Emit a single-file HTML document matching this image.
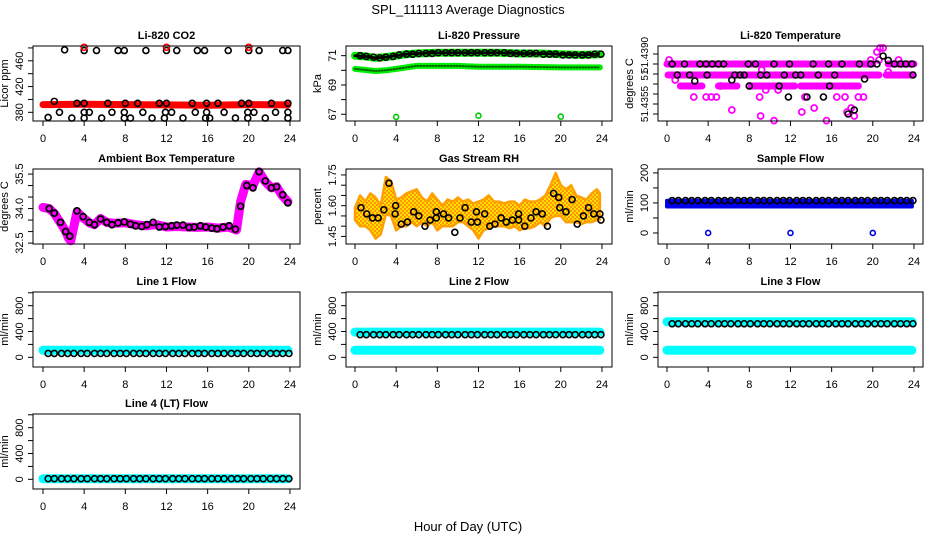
<!DOCTYPE html>
<html><head><meta charset="utf-8"><title>SPL_111113 Average Diagnostics</title>
<style>
html,body{margin:0;padding:0;background:#fff;}
svg{display:block;font-family:"Liberation Sans",Arial,sans-serif;}
</style></head>
<body>
<svg id="chart" width="936" height="540" viewBox="0 0 936 540" xmlns="http://www.w3.org/2000/svg">
<rect x="0" y="0" width="936" height="540" fill="#fff"/>
<defs>
<pattern id="rhpat" width="4" height="4" patternUnits="userSpaceOnUse">
<rect width="4" height="4" fill="#ffe000"/>
<circle cx="1" cy="1" r="1.1" fill="#ff9000"/>
<circle cx="3" cy="3" r="1.1" fill="#ff9000"/>
</pattern>
</defs>
<text x="468" y="14" font-size="13" text-anchor="middle">SPL_111113  Average Diagnostics</text>
<text x="468" y="531" font-size="13" text-anchor="middle">Hour of Day (UTC)</text>
</svg>
<script>
// ---------- shared data ----------
const xTicks = [0,4,8,12,16,20,24];
const blackT = [0.5,1.1,1.8,2.4,3.0,3.7,4.3,5.0,5.6,6.2,6.9,7.5,8.1,8.8,9.4,10.0,10.7,11.3,11.9,12.6,13.2,13.8,14.5,15.1,15.7,16.4,17.0,17.6,18.3,18.9,19.5,20.2,20.8,21.4,22.1,22.7,23.3,23.9];
const bandT = [0,4,8,12,16,20,23.8];

// CO2
const co2BandV = [392,392.5,392,391.5,391,392,391.5];
const co2T = [2.1,4,5.2,7.3,7.9,10,12,13,15,15.7,18,20,21,23.3,23.8, 1.1,3.3,4,6.3,8,9.2,11.3,12,14.5,15.9,17,19.3,20,22.2,23.8, 0.5,2.8,4,5.7,7.9,8.5,10.6,11.8,13.6,15.8,16.2,18.7,19.9,21.6,23.8, 1.6,4,4.5,6.7,7.9,9.7,11.9,12.5,14.8,15.9,17.6,19.9,20.5,22.6,23.8];
const co2V = [477,476,476,476,476,476,476,476,476,476,476,476,476,476,476, 397,394,394,394,394,394,394,394,394,394,394,394,394,394,394, 372,371,371,371,371,371,371,371,371,371,371,371,371,371,371, 380,380,380,380,380,380,380,380,380,380,380,380,380,380,380];
const co2RedT = [4,12,20];
const co2RedV = [481,481,481];

// Pressure
const presUpT = [0,1,2,3,4,5,6,8,10,12,14,16,18,20,22,23.8];
const presUpV = [71.0,70.95,70.85,70.9,71.0,71.1,71.15,71.2,71.2,71.2,71.2,71.15,71.15,71.1,71.05,71.1];
const presLoT = [0,2,3,4,5,6,8,10,12,16,20,23.8];
const presLoV = [70.1,69.95,70.0,70.1,70.2,70.3,70.3,70.3,70.25,70.25,70.2,70.2];
const presBlackV = [71.0,70.95,70.9,70.85,70.9,70.95,71.05,71.1,71.1,71.15,71.15,71.15,71.2,71.2,71.2,71.2,71.2,71.2,71.2,71.2,71.2,71.2,71.2,71.15,71.15,71.15,71.15,71.15,71.1,71.1,71.1,71.05,71.05,71.05,71.05,71.05,71.1,71.1];
const presOutT = [4,12,20];
const presOutV = [66.82,66.9,66.84];

// Li-820 temperature
const tempRunStart = [0,21.5,0.1,21.3,1.3,5.0,8.2,13.0];
const tempRunEnd   = [20,24,20.6,23.9,3.4,6.8,12.4,18.6];
const tempRunV     = [51.4385,51.4385,51.43795,51.43795,51.4374,51.4374,51.4374,51.4374];
const tempMagT = [0.2,0.8,2.6,3.8,4.3,4.8,5.2,6.3,8.0,9.0,9.1,9.2,9.6,10.4,10.8,13.1,13.4,14.3,15.5,16.5,17.3,17.5,17.9,18.2,18.6,19.1,19.8,20.4,20.7,21.0,20.6,21.5,22.5];
const tempMagV = [51.4387,51.4377,51.43685,51.43685,51.43685,51.43685,51.4374,51.4362,51.4374,51.43685,51.4359,51.4382,51.4372,51.43567,51.4372,51.4361,51.43685,51.4363,51.43567,51.43685,51.43685,51.4361,51.4363,51.4359,51.43685,51.43685,51.4387,51.4391,51.4393,51.4393,51.4387,51.4381,51.4387];
const tempBlackT = [0.5,1.0,1.7,2.2,2.7,3.2,3.8,3.9,4.4,5.0,5.5,6.3,6.6,7.1,7.5,7.9,8.0,8.6,9.1,9.7,10.4,10.9,11.4,11.8,11.9,12.5,13.0,13.6,14.2,14.7,15.2,15.7,15.8,16.3,17.0,17.6,18.2,18.7,19.2,19.8,20.4,21.0,21.5,22.1,22.7,23.2,23.8,23.9];
const tempBlackV = [51.4385,51.43795,51.4385,51.43795,51.43765,51.4385,51.4385,51.43795,51.4385,51.4385,51.4385,51.4377,51.43795,51.43795,51.43795,51.4385,51.4374,51.4385,51.43795,51.43795,51.4385,51.4374,51.43795,51.43685,51.4385,51.43795,51.43795,51.43685,51.4385,51.43795,51.43685,51.4385,51.4374,51.43795,51.4385,51.4360,51.4362,51.4385,51.43775,51.4385,51.4385,51.4389,51.43868,51.4385,51.4385,51.4385,51.4385,51.43795];

// Ambient box temperature
const ambT = [0,0.6,1.1,1.7,2.2,2.5,2.7,3.3,3.9,4.5,5.0,5.6,6.2,7.0,8.0,9.0,10.0,11.0,12.0,13.0,14.0,15.0,16.0,17.0,18.0,18.8,19.2,19.7,20.4,21.0,21.6,22.2,22.7,23.2,23.8];
const ambV = [34.05,34.0,33.79,33.38,33.02,32.7,32.6,33.86,33.6,33.38,33.3,33.57,33.4,33.36,33.38,33.3,33.25,33.3,33.2,33.22,33.2,33.18,33.2,33.15,33.2,33.07,34.3,35.05,35.0,35.6,35.17,34.9,34.95,34.59,34.3];
const ambBlackT = [0.6,1.1,1.7,2.2,2.6,3.3,3.9,4.5,5.0,5.6,6.2,6.7,7.3,7.9,8.5,9.0,9.6,10.1,10.7,11.3,11.9,12.5,13.0,13.6,14.2,14.7,15.3,15.8,16.4,16.9,17.5,18.1,18.7,19.2,19.8,20.4,21.0,21.6,22.2,22.7,23.3,23.8];
const ambBlackV = [34.0,33.8,33.4,33.0,32.8,33.9,33.65,33.4,33.3,33.55,33.4,33.3,33.38,33.42,33.32,33.25,33.22,33.3,33.4,33.2,33.22,33.25,33.28,33.28,33.18,33.2,33.25,33.2,33.15,33.12,33.2,33.25,33.1,34.1,35.0,34.9,35.6,35.2,34.9,34.95,34.6,34.25];

// Gas stream RH
const rhEnvT = [0,0.5,1,1.5,2,2.5,3,3.5,4,4.5,5,5.5,6,6.5,7,7.5,8,8.5,9,9.5,10,10.5,11,11.5,12,12.5,13,13.5,14,14.5,15,15.5,16,16.5,17,17.5,18,18.5,19,19.5,20,20.5,21,21.5,22,22.5,23,23.5,23.8];
const rhHi = [1.59,1.65,1.62,1.66,1.64,1.60,1.74,1.72,1.63,1.64,1.66,1.67,1.68,1.64,1.62,1.66,1.63,1.60,1.63,1.62,1.64,1.62,1.63,1.61,1.62,1.63,1.65,1.62,1.62,1.61,1.62,1.62,1.60,1.63,1.62,1.62,1.63,1.65,1.70,1.76,1.70,1.68,1.70,1.65,1.64,1.63,1.66,1.68,1.66];
const rhLo = [1.53,1.50,1.50,1.48,1.44,1.46,1.56,1.55,1.48,1.50,1.50,1.52,1.50,1.52,1.50,1.52,1.48,1.50,1.50,1.50,1.52,1.52,1.50,1.48,1.44,1.48,1.49,1.50,1.50,1.50,1.49,1.50,1.48,1.49,1.49,1.50,1.52,1.50,1.54,1.55,1.55,1.52,1.52,1.52,1.51,1.52,1.52,1.53,1.53];
const rhBlackT = [0.58,1.14,1.7,2.25,2.8,3.3,3.9,3.95,4.5,5.1,5.7,6.2,6.8,7.3,7.9,7.9,8.6,9.1,9.7,10.2,10.7,11.3,11.8,11.9,12.6,13.1,13.6,14.2,14.7,15.3,15.9,15.9,16.5,17.1,17.6,18.2,18.7,19.3,19.8,19.9,20.5,21.1,21.6,22.2,22.7,23.2,23.8,23.9];
const rhBlackV = [1.59,1.56,1.54,1.54,1.58,1.71,1.56,1.60,1.51,1.52,1.57,1.55,1.50,1.53,1.57,1.54,1.56,1.54,1.47,1.54,1.59,1.52,1.57,1.52,1.56,1.50,1.51,1.54,1.52,1.53,1.56,1.53,1.50,1.54,1.57,1.56,1.50,1.66,1.64,1.59,1.57,1.63,1.51,1.55,1.59,1.56,1.56,1.53];

// Sample flow
const sfHiV = [107,107,107,107,107,107,107];
const sfLoV = [88,88,88,88,88,88,88];
const sfBlackV = [108,108,108,108,108,108,108,108,108,108,108,108,108,108,108,108,108,108,108,108,108,108,108,108,108,108,108,108,108,108,108,108,108,108,108,108,108,108];
const sfOutT = [4,12,20];
const sfOutV = [0,0,0];

// Line flows
const l1CyanV = [110,110,110,110,110,110,110];
const l1BlackV = [60,60,60,60,60,60,60,60,60,60,60,60,60,60,60,60,60,60,60,60,60,60,60,60,60,60,60,60,60,60,60,60,60,60,60,60,60,60];
const l2CyanHiV = [390,390,390,390,390,390,390];
const l2CyanLoV = [110,110,110,110,110,110,110];
const l2BlackV = [350,350,350,350,350,350,350,350,350,350,350,350,350,350,350,350,350,350,350,350,350,350,350,350,350,350,350,350,350,350,350,350,350,350,350,350,350,350];
const l3CyanHiV = [550,550,550,550,550,550,550];
const l3CyanLoV = [110,110,110,110,110,110,110];
const l3BlackV = [520,520,520,520,520,520,520,520,520,520,520,520,520,520,520,520,520,520,520,520,520,520,520,520,520,520,520,520,520,520,520,520,520,520,520,520,520,520];
const l4CyanV = [10,10,10,10,10,10,10];
const l4BlackV = [10,10,10,10,10,10,10,10,10,10,10,10,10,10,10,10,10,10,10,10,10,10,10,10,10,10,10,10,10,10,10,10,10,10,10,10,10,10];

// tick arrays
const co2Ticks = [380,400,420,440,460,480], co2Labels = [380,420,460];
const presTicks = [67,68,69,70,71], presLabels = [67,69,71];
const tempTicks = [51.436,51.4365,51.437,51.4375,51.438,51.4385,51.439];
const tempLabelV = [51.43895,51.43795,51.4365], tempLabelText = ['51.4390','51','51.4355'];
const ambTicks = [32.5,33,33.5,34,34.5,35,35.5], ambLabels = [32.5,34.0,35.5];
const rhTicks = [1.45,1.5,1.55,1.6,1.65,1.7,1.75], rhLabels = [1.45,1.60,1.75];
const sfTicks = [0,50,100,150,200], sfLabels = [0,100,200];
const flowTicks = [0,200,400,600,800,1000], flowLabels = [0,400,800];

// ---------- rendering ----------
const NS = 'http://www.w3.org/2000/svg';
const svg = document.getElementById('chart');
const colX0 = [43,355,667], colL = [33,346,658], colR = [300,612,923];
const rowT = [46,169,292,414], rowB = [121,244,367,489];
const PXH = 10.29;

function mk(tag, attrs, parent){
  const e = document.createElementNS(NS, tag);
  for (const k in attrs) e.setAttribute(k, attrs[k]);
  (parent||svg).appendChild(e);
  return e;
}

function panel(o){
  const g = mk('g', {});
  
  
  const L = colL[o.col], R = colR[o.col], T = rowT[o.row], B = rowB[o.row];
  const sx = t => colX0[o.col] + t*PXH;
  const sy = v => B - (v - o.ylim[0])/(o.ylim[1]-o.ylim[0])*(B-T);
  const plot = mk('g', {}, g);
  
  
  o.draw(plot, sx, sy);
  const box = mk('rect', {x:L, y:T, width:R-L, height:B-T, fill:'none', stroke:'#000', 'stroke-width':1}, g);
  
  
  const t = mk('text', {x:(L+R)/2, y:T-7, 'font-size':11, 'font-weight':'bold', 'text-anchor':'middle'}, g);
  t.textContent = o.title;
  
  
  // x axis
  const xa = mk('g', {}, g);
  
  
  mk('line', {x1:sx(xTicks[0]), x2:sx(xTicks[xTicks.length-1]), y1:B, y2:B, stroke:'#000'}, xa);
  xTicks.forEach(v => {
    mk('line', {x1:sx(v), x2:sx(v), y1:B, y2:B+5, stroke:'#000'}, xa);
    const lt = mk('text', {x:sx(v), y:B+21, 'font-size':11, 'text-anchor':'middle'}, xa);
    lt.textContent = v;
    
    
  });
  // y axis
  const ya = mk('g', {}, g);
  
  
  mk('line', {x1:L, x2:L, y1:sy(o.yticks[0]), y2:sy(o.yticks[o.yticks.length-1]), stroke:'#000'}, ya);
  o.yticks.forEach(v => mk('line', {x1:L-5, x2:L, y1:sy(v), y2:sy(v), stroke:'#000'}, ya));
  o.ylabelV.forEach((v,i) => {
    const y = sy(v), x = L-10;
    const lt = mk('text', {x:x, y:y, 'font-size':o.ylabelText ? 10 : 11, 'text-anchor':'middle', transform:`rotate(-90 ${x} ${y})`}, ya);
    lt.textContent = o.ylabelText ? o.ylabelText[i] : (o.fmt ? v.toFixed(o.fmt) : String(v));
    
    
  });
  const yl = mk('text', {x:L-25, y:(T+B)/2, 'font-size':11, 'text-anchor':'middle', transform:`rotate(-90 ${L-25} ${(T+B)/2})`}, ya);
  yl.textContent = o.ylab;
  
  
}

function line(parent, ts, vs, sx, sy, color, w, name){
  const pts = ts.map((t,i) => sx(t).toFixed(1)+','+sy(vs[i]).toFixed(1)).join(' ');
  const pl = mk('polyline', {points:pts, fill:'none', stroke:color, 'stroke-width':w, 'stroke-linecap':'round', 'stroke-linejoin':'round'}, parent);
  
  
  return pl;
}
function points(parent, ts, vs, sx, sy, color, r, sw, name){
  ts.forEach((t,i) => {
    const c = mk('circle', {cx:sx(t), cy:sy(vs[i]), r:r, fill:'none', stroke:color, 'stroke-width':sw}, parent);
    
    
  });
}

panel({name:'co2-panel', col:0, row:0, title:'Li-820 CO2', ylab:'Licor ppm', ylim:[366.5,483], yticks:co2Ticks, ylabelV:co2Labels,
  draw:(g,sx,sy)=>{
    line(g, bandT, co2BandV, sx, sy, '#ff0000', 7, 'co2-red-band');
    points(g, co2T, co2V, sx, sy, '#000', 3, 1.6, 'co2-point');
    points(g, co2RedT, co2RedV, sx, sy, '#ff0000', 3, 1.6, 'co2-red-point');
  }});

panel({name:'pressure-panel', col:1, row:0, title:'Li-820 Pressure', ylab:'kPa', ylim:[66.54,71.66], yticks:presTicks, ylabelV:presLabels,
  draw:(g,sx,sy)=>{
    line(g, presLoT, presLoV, sx, sy, '#00ee00', 6, 'pressure-lower-band');
    const d1 = line(g, presLoT, presLoV, sx, sy, '#006600', 2, 'pressure-lower-texture'); d1.setAttribute('stroke-dasharray','1 2');
    line(g, presUpT, presUpV, sx, sy, '#00ee00', 8, 'pressure-upper-band');
    const d2 = line(g, presUpT, presUpV, sx, sy, '#000', 3, 'pressure-upper-texture'); d2.setAttribute('stroke-dasharray','1 2');
    points(g, blackT, presBlackV, sx, sy, '#000', 3, 1.6, 'pressure-point');
    points(g, presOutT, presOutV, sx, sy, '#00cc00', 2.5, 1.6, 'pressure-outlier');
  }});

panel({name:'temperature-panel', col:2, row:0, title:'Li-820 Temperature', ylab:'degrees C', ylim:[51.43565,51.4394], yticks:tempTicks, ylabelV:tempLabelV, ylabelText:tempLabelText,
  draw:(g,sx,sy)=>{
    tempRunStart.forEach((s,i) => {
      const ln = mk('line', {x1:sx(s), x2:sx(tempRunEnd[i]), y1:sy(tempRunV[i]), y2:sy(tempRunV[i]), stroke:'#ff00ff', 'stroke-width':7, 'stroke-linecap':'round'}, g);
      
      
    });
    points(g, tempMagT, tempMagV, sx, sy, '#ff00ff', 3, 1.8, 'temperature-magenta-point');
    points(g, tempBlackT, tempBlackV, sx, sy, '#000', 3, 1.6, 'temperature-point');
  }});

panel({name:'ambient-panel', col:0, row:1, title:'Ambient Box Temperature', ylab:'degrees C', ylim:[32.46,35.72], yticks:ambTicks, ylabelV:ambLabels, fmt:1,
  draw:(g,sx,sy)=>{
    line(g, ambT, ambV, sx, sy, '#ff00ff', 9, 'ambient-magenta-line');
    points(g, ambBlackT, ambBlackV, sx, sy, '#000', 3, 1.8, 'ambient-point');
  }});

panel({name:'rh-panel', col:1, row:1, title:'Gas Stream RH', ylab:'percent', ylim:[1.413,1.779], yticks:rhTicks, ylabelV:rhLabels, fmt:2,
  draw:(g,sx,sy)=>{
    const up = rhEnvT.map((t,i)=>sx(t).toFixed(1)+','+sy(rhHi[i]).toFixed(1));
    const dn = rhEnvT.map((t,i)=>sx(t).toFixed(1)+','+sy(rhLo[i]).toFixed(1)).reverse();
    const pg = mk('polygon', {points:up.concat(dn).join(' '), fill:'url(#rhpat)', stroke:'#ffa000', 'stroke-width':2.5, 'stroke-linejoin':'round'}, g);
    
    
    points(g, rhBlackT, rhBlackV, sx, sy, '#000', 3, 1.6, 'rh-point');
  }});

panel({name:'sample-flow-panel', col:2, row:1, title:'Sample Flow', ylab:'ml/min', ylim:[-36.7,213], yticks:sfTicks, ylabelV:sfLabels,
  draw:(g,sx,sy)=>{
    const up = bandT.map((t,i)=>sx(t).toFixed(1)+','+sy(sfHiV[i]).toFixed(1));
    const dn = bandT.map((t,i)=>sx(t).toFixed(1)+','+sy(sfLoV[i]).toFixed(1)).reverse();
    const pg = mk('polygon', {points:up.concat(dn).join(' '), fill:'#0000ee', stroke:'#0000ee', 'stroke-width':4, 'stroke-linejoin':'round'}, g);
    
    
    points(g, blackT, sfBlackV, sx, sy, '#000', 3, 1.6, 'sample-flow-point');
    points(g, sfOutT, sfOutV, sx, sy, '#0000ee', 2.5, 1.6, 'sample-flow-outlier');
  }});

const flowYlim = [-150,1012];
panel({name:'line1-flow-panel', col:0, row:2, title:'Line 1 Flow', ylab:'ml/min', ylim:flowYlim, yticks:flowTicks, ylabelV:flowLabels,
  draw:(g,sx,sy)=>{
    line(g, bandT, l1CyanV, sx, sy, '#00ffff', 9, 'line1-cyan-band');
    points(g, blackT, l1BlackV, sx, sy, '#000', 3, 1.6, 'line1-point');
  }});
panel({name:'line2-flow-panel', col:1, row:2, title:'Line 2 Flow', ylab:'ml/min', ylim:flowYlim, yticks:flowTicks, ylabelV:flowLabels,
  draw:(g,sx,sy)=>{
    line(g, bandT, l2CyanHiV, sx, sy, '#00ffff', 9, 'line2-cyan-high-band');
    line(g, bandT, l2CyanLoV, sx, sy, '#00ffff', 9, 'line2-cyan-low-band');
    points(g, blackT, l2BlackV, sx, sy, '#000', 3, 1.6, 'line2-point');
  }});
panel({name:'line3-flow-panel', col:2, row:2, title:'Line 3 Flow', ylab:'ml/min', ylim:flowYlim, yticks:flowTicks, ylabelV:flowLabels,
  draw:(g,sx,sy)=>{
    line(g, bandT, l3CyanHiV, sx, sy, '#00ffff', 9, 'line3-cyan-high-band');
    line(g, bandT, l3CyanLoV, sx, sy, '#00ffff', 9, 'line3-cyan-low-band');
    points(g, blackT, l3BlackV, sx, sy, '#000', 3, 1.6, 'line3-point');
  }});
panel({name:'line4-flow-panel', col:0, row:3, title:'Line 4 (LT) Flow', ylab:'ml/min', ylim:flowYlim, yticks:flowTicks, ylabelV:flowLabels,
  draw:(g,sx,sy)=>{
    line(g, bandT, l4CyanV, sx, sy, '#00ffff', 9, 'line4-cyan-band');
    points(g, blackT, l4BlackV, sx, sy, '#000', 3, 1.6, 'line4-point');
  }});
</script>
</body></html>
